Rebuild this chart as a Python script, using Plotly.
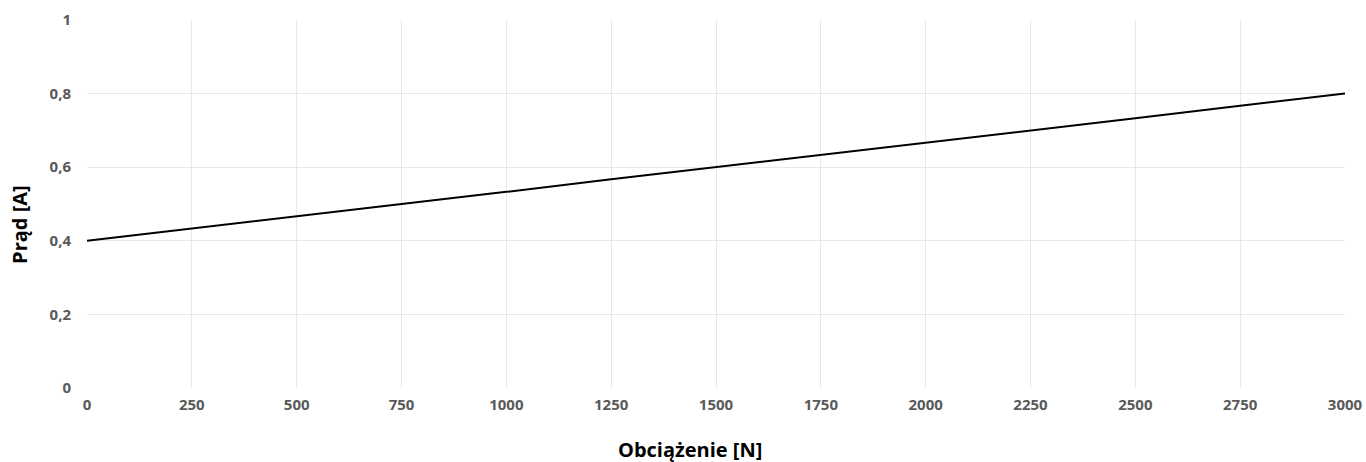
import plotly.graph_objects as go

load_n = [0, 250, 500, 750, 1000, 1250, 1500, 1750, 2000, 2250, 2500, 2750, 3000]
current_a = [0.4, 0.433, 0.467, 0.5, 0.533, 0.567, 0.6, 0.633, 0.667, 0.7, 0.733, 0.767, 0.8]

x_ticks = [0, 250, 500, 750, 1000, 1250, 1500, 1750, 2000, 2250, 2500, 2750, 3000]
x_ticktext = ["0", "250", "500", "750", "1000", "1250", "1500", "1750", "2000", "2250", "2500", "2750", "3000"]
y_ticks = [0, 0.2, 0.4, 0.6, 0.8, 1]
y_ticktext = ["0", "0,2", "0,4", "0,6", "0,8", "1"]

x_title = "Obciążenie [N]"
y_title = "Prąd [A]"

fig = go.Figure()
fig.add_trace(go.Scatter(x=load_n, y=current_a, mode="lines",
                         line=dict(color="#000000", width=2), showlegend=False))

tickfont = dict(family="Open Sans", size=15, color="#595959", weight="bold")
titlefont = dict(family="Open Sans", size=20, color="#000000", weight="bold")

fig.update_layout(
    width=1366, height=462,
    margin=dict(l=87, r=21, t=20, b=74, autoexpand=False),
    paper_bgcolor="white", plot_bgcolor="white",
    xaxis=dict(range=[0, 3000], tickvals=x_ticks, ticktext=x_ticktext,
               showgrid=True, gridcolor="#e8e8e8", gridwidth=1,
               zeroline=False, showline=False, ticks="", tickfont=tickfont,
               ticklabelstandoff=6, automargin=False),
    yaxis=dict(range=[0, 1], tickvals=y_ticks, ticktext=y_ticktext,
               showgrid=True, gridcolor="#e8e8e8", gridwidth=1,
               zeroline=False, showline=False, ticks="", tickfont=tickfont,
               ticklabelstandoff=15, automargin=False),
    annotations=[
        dict(text=x_title, xref="paper", yref="paper", x=0.479, y=-0.166,
             xanchor="center", yanchor="middle", showarrow=False, font=titlefont),
        dict(text=y_title, xref="paper", yref="paper", x=-0.0533, y=0.4457,
             xanchor="center", yanchor="middle", showarrow=False, font=titlefont,
             textangle=-90),
    ],
)

fig.write_html("out.html", config={"displayModeBar": False},
               post_script="document.body.style.margin='0px';document.body.style.overflow='hidden';")
